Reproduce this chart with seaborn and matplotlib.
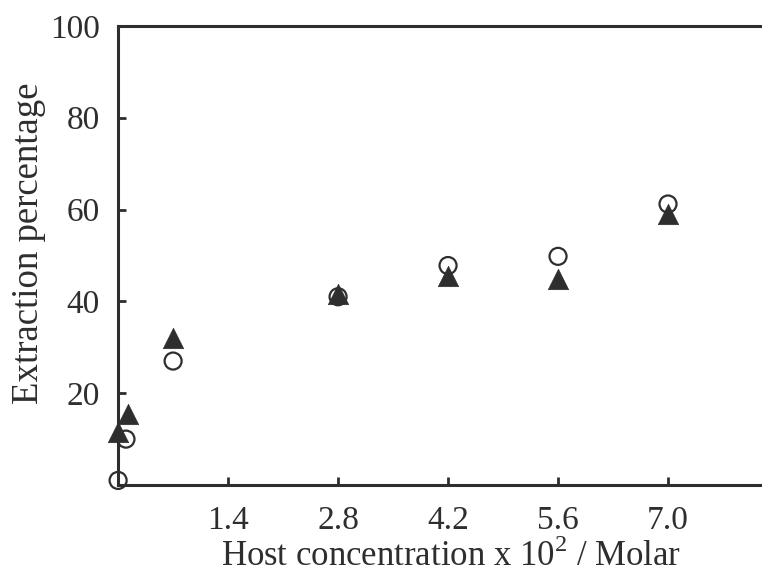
import matplotlib
matplotlib.use("Agg")
import matplotlib.pyplot as plt
import seaborn as sns
import pandas as pd

# DATA
conc_circle = [0.0, 0.1, 0.7, 2.8, 4.2, 5.6, 7.0]
pct_circle = [1.0, 10.0, 27.0, 41.0, 47.8, 49.8, 61.2]
conc_triangle = [0.0, 0.12, 0.7, 2.8, 4.2, 5.6, 7.0]
pct_triangle = [11.5, 15.5, 32.0, 41.5, 45.6, 44.8, 59.0]

x_ticks = [1.4, 2.8, 4.2, 5.6, 7.0]
x_ticklabels = ["1.4", "2.8", "4.2", "5.6", "7.0"]
y_ticks = [20, 40, 60, 80, 100]

df_c = pd.DataFrame({"conc": conc_circle, "pct": pct_circle})
df_t = pd.DataFrame({"conc": conc_triangle, "pct": pct_triangle})

# STYLE
sns.set_style("ticks")
plt.rcParams["font.family"] = ["Liberation Serif", "DejaVu Serif"]
plt.rcParams["mathtext.fontset"] = "custom"
plt.rcParams["mathtext.rm"] = "Liberation Serif"
ink = "#2e2e2e"

fig = plt.figure(figsize=(7.62, 5.74), dpi=100)
# axes run past the right edge of the figure, like the cropped scan
ax = fig.add_axes([0.155, 0.155, 0.866, 0.80])

sns.scatterplot(data=df_t, x="conc", y="pct", marker="^", s=215,
                color=ink, edgecolor=ink, linewidth=0.5, ax=ax, zorder=3,
                clip_on=False)
sns.scatterplot(data=df_c, x="conc", y="pct", marker="o", s=150,
                facecolor="none", edgecolor=ink, linewidth=1.6, ax=ax,
                zorder=4, clip_on=False)

ax.set_xlim(0, 8.4)
ax.set_ylim(0, 100)
ax.set_xticks(x_ticks)
ax.set_xticklabels(x_ticklabels)
ax.set_yticks(y_ticks)

ax.tick_params(direction="in", length=6, width=2, colors=ink, labelsize=24)
ax.tick_params(axis="x", pad=15)
ax.tick_params(axis="y", pad=13)
for sp in ax.spines.values():
    sp.set_linewidth(2.2)
    sp.set_color(ink)
ax.spines["right"].set_visible(False)

ax.set_xlabel("Host concentration x 10$^2$ / Molar", fontsize=25, color=ink)
ax.set_ylabel("Extraction percentage", fontsize=26.5, color=ink)
ax.xaxis.set_label_coords(0.505, -0.118)
ax.yaxis.set_label_coords(-0.11, 0.527)

fig.savefig("out.png", dpi=100)
